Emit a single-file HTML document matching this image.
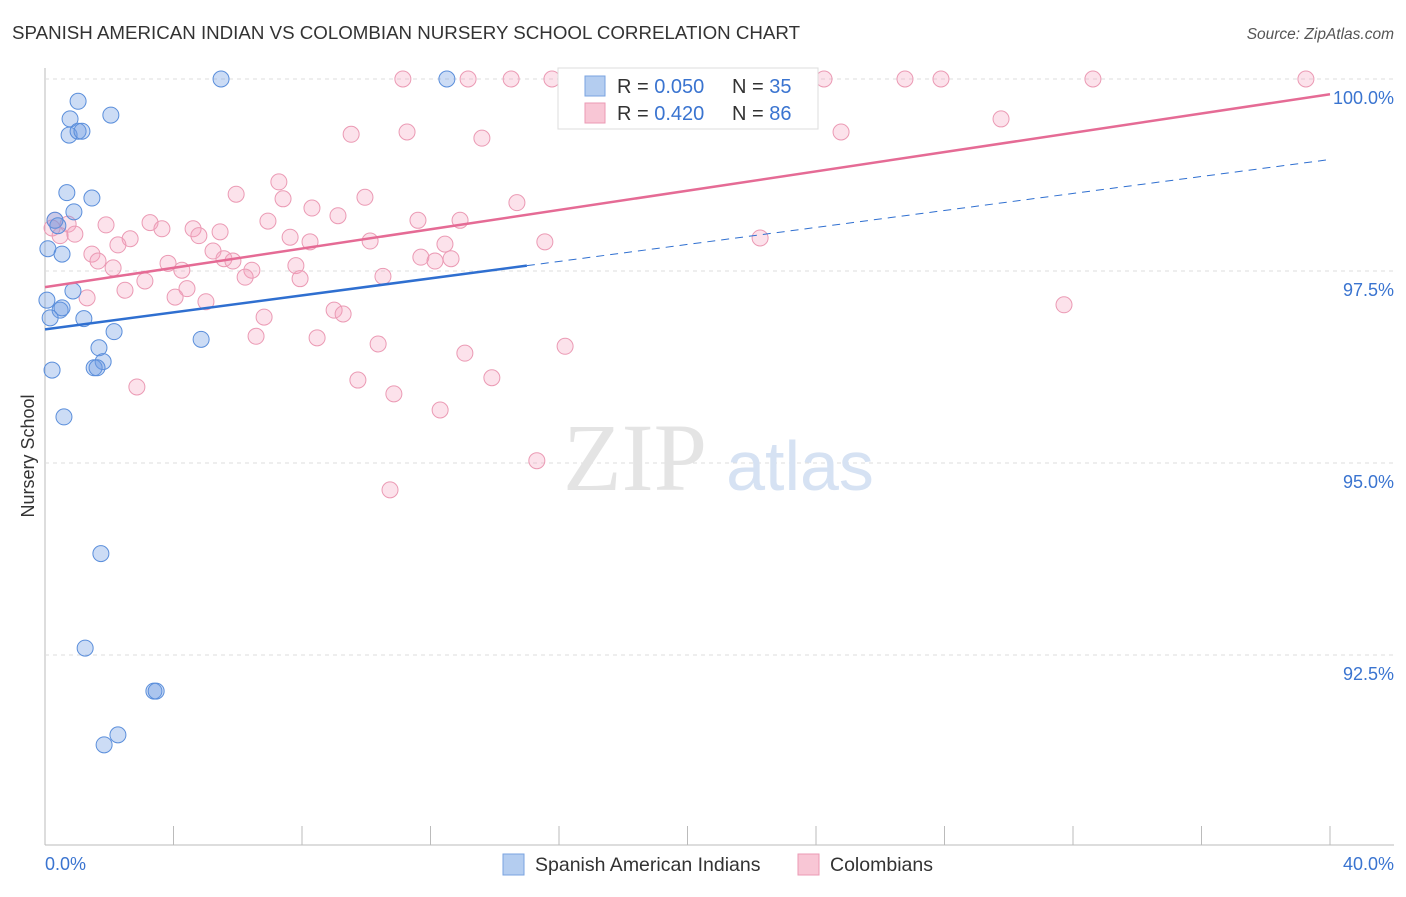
<!DOCTYPE html>
<html><head><meta charset="utf-8"><style>
body{margin:0;background:#fff;font-family:"Liberation Sans",sans-serif;}
</style></head><body>
<svg width="1406" height="892" viewBox="0 0 1406 892" xmlns="http://www.w3.org/2000/svg">
<text x="12" y="39" font-size="18" fill="#333" textLength="788" lengthAdjust="spacingAndGlyphs">SPANISH AMERICAN INDIAN VS COLOMBIAN NURSERY SCHOOL CORRELATION CHART</text>
<text x="1394" y="39" font-size="15.5" fill="#555" font-style="italic" text-anchor="end">Source: ZipAtlas.com</text>
<g id="grid"></g>
<text x="635" y="490" font-size="96" fill="#e4e4e4" font-family="Liberation Serif,serif" text-anchor="middle">ZIP</text>
<text x="800" y="490" font-size="70" fill="#d6e2f3" text-anchor="middle">atlas</text>
<text transform="translate(34,456) rotate(-90)" font-size="18" fill="#333" text-anchor="middle">Nursery School</text>
<g id="pts"></g>
<g id="lines"></g>
<g>
<rect x="558" y="68" width="260" height="61" fill="#fff" stroke="#ddd"/>
<rect x="585" y="76" width="20" height="20" fill="#b4cdf0" stroke="#7aa3e0"/>
<text x="617" y="93" font-size="20" fill="#333">R = <tspan fill="#3a74d0">0.050</tspan></text>
<text x="732" y="93" font-size="20" fill="#333">N = <tspan fill="#3a74d0">35</tspan></text>
<rect x="585" y="103" width="20" height="20" fill="#f8c6d5" stroke="#eb9ab4"/>
<text x="617" y="120" font-size="20" fill="#333">R = <tspan fill="#3a74d0">0.420</tspan></text>
<text x="732" y="120" font-size="20" fill="#333">N = <tspan fill="#3a74d0">86</tspan></text>
</g>
<g>
<rect x="503" y="854" width="21" height="21" fill="#b4cdf0" stroke="#7aa3e0"/>
<text x="535" y="871" font-size="19.5" fill="#333">Spanish American Indians</text>
<rect x="798" y="854" width="21" height="21" fill="#f8c6d5" stroke="#eb9ab4"/>
<text x="830" y="871" font-size="19.5" fill="#333">Colombians</text>
</g>
<text x="45" y="870" font-size="18" fill="#3a74d0">0.0%</text>
<text x="1394" y="870" font-size="18" fill="#3a74d0" text-anchor="end">40.0%</text>
</svg>
<script>
const blueX=[5.48,12.51,1.03,2.05,0.78,0.75,1.03,1.15,0.68,1.46,0.90,0.31,0.40,0.09,0.53,0.06,0.87,0.47,0.53,0.16,1.21,2.15,4.86,1.68,1.81,1.53,1.62,0.22,0.59,1.74,1.25,3.39,3.46,2.27,1.84];
const blueY=[100,100,99.71,99.53,99.48,99.27,99.32,99.32,98.52,98.45,98.27,98.16,98.09,97.79,97.72,97.12,97.24,96.99,97.02,96.89,96.88,96.71,96.61,96.50,96.32,96.24,96.24,96.21,95.60,93.82,92.59,92.03,92.03,91.46,91.33];
const pinkX=[11.14,13.17,14.51,15.78,17.84,19.96,24.25,26.77,27.89,32.62,39.25,9.53,11.27,13.60,24.78,29.76,7.28,5.95,9.96,14.69,7.41,8.31,9.12,11.61,12.92,0.31,0.72,1.90,3.27,3.64,4.61,5.45,6.94,0.22,0.47,0.93,2.65,2.27,4.79,7.63,8.25,10.12,12.45,15.56,22.26,1.46,1.65,2.12,5.23,5.57,5.85,6.44,6.23,7.81,7.94,10.52,11.70,12.14,12.64,3.83,4.26,3.11,2.49,4.42,4.05,1.31,5.01,6.82,9.00,9.28,6.57,8.47,10.37,13.07,16.19,13.91,9.74,2.86,10.86,12.30,15.31,10.74,31.72];
const pinkY=[100,100,100,100,100,100,100,100,100,100,100,99.28,99.31,99.23,99.31,99.48,98.66,98.50,98.46,98.39,98.44,98.32,98.22,98.16,98.16,98.16,98.11,98.10,98.13,98.05,98.05,98.01,98.15,98.06,97.96,97.98,97.92,97.84,97.96,97.94,97.88,97.89,97.85,97.88,97.93,97.72,97.63,97.54,97.76,97.66,97.63,97.51,97.42,97.57,97.40,97.43,97.68,97.63,97.66,97.60,97.51,97.37,97.25,97.27,97.16,97.15,97.10,96.90,96.99,96.94,96.65,96.63,96.55,96.43,96.52,96.11,96.08,95.99,95.90,95.69,95.03,94.65,97.06];
const yTicks=[100,97.5,95,92.5];
const yTickLabels=["100.0%","97.5%","95.0%","92.5%"];
const xTicks=[0,4,8,12,16,20,24,28,32,36,40];
const blueLine=[96.74,0.0553];
const blueSolidEnd=15;
const pinkLine=[97.29,0.0628];
const NS="http://www.w3.org/2000/svg";
const sx=v=>45+v/40*1285;
const sy=v=>79+(100-v)/2.5*192;
function mk(tag,attrs,parent){const e=document.createElementNS(NS,tag);for(const k in attrs)e.setAttribute(k,attrs[k]);parent.appendChild(e);return e;}
const grid=document.getElementById('grid');
let ax=mk('line',{x1:45,y1:68,x2:45,y2:845,stroke:'#bbb'},grid);


let bx=mk('line',{x1:45,y1:845,x2:1394,y2:845,stroke:'#bbb'},grid);


yTicks.forEach((t,i)=>{
 const g=mk('line',{x1:45,x2:1394,y1:sy(t),y2:sy(t),stroke:'#ddd','stroke-dasharray':'4,4'},grid);
 
 
 const l=mk('text',{x:1394,y:sy(t)+25,'font-size':18,fill:'#3a74d0','text-anchor':'end'},grid);
 l.textContent=yTickLabels[i];
 
 
});
xTicks.forEach(t=>{
 const k=mk('line',{x1:sx(t),x2:sx(t),y1:826,y2:845,stroke:'#bbb'},grid);
 
 
});
const pts=document.getElementById('pts');
pinkX.forEach((x,i)=>{
 const c=mk('circle',{cx:sx(x),cy:sy(pinkY[i]),r:8,fill:'rgba(244,160,188,0.3)',stroke:'#eb9ab4','stroke-width':1},pts);
 
 
});
blueX.forEach((x,i)=>{
 const c=mk('circle',{cx:sx(x),cy:sy(blueY[i]),r:8,fill:'rgba(110,155,225,0.35)',stroke:'#5a8edb','stroke-width':1},pts);
 
 
});
const lines=document.getElementById('lines');
const bl=x=>blueLine[0]+blueLine[1]*x, pl=x=>pinkLine[0]+pinkLine[1]*x;
let l1=mk('line',{x1:sx(0),y1:sy(bl(0)),x2:sx(blueSolidEnd),y2:sy(bl(blueSolidEnd)),stroke:'#2f6fd0','stroke-width':2.5},lines);


let l2=mk('line',{x1:sx(blueSolidEnd),y1:sy(bl(blueSolidEnd)),x2:sx(40),y2:sy(bl(40)),stroke:'#2f6fd0','stroke-width':1,'stroke-dasharray':'8,6'},lines);


let l3=mk('line',{x1:sx(0),y1:sy(pl(0)),x2:sx(40),y2:sy(pl(40)),stroke:'#e56b95','stroke-width':2.5},lines);


</script>
</body></html>
